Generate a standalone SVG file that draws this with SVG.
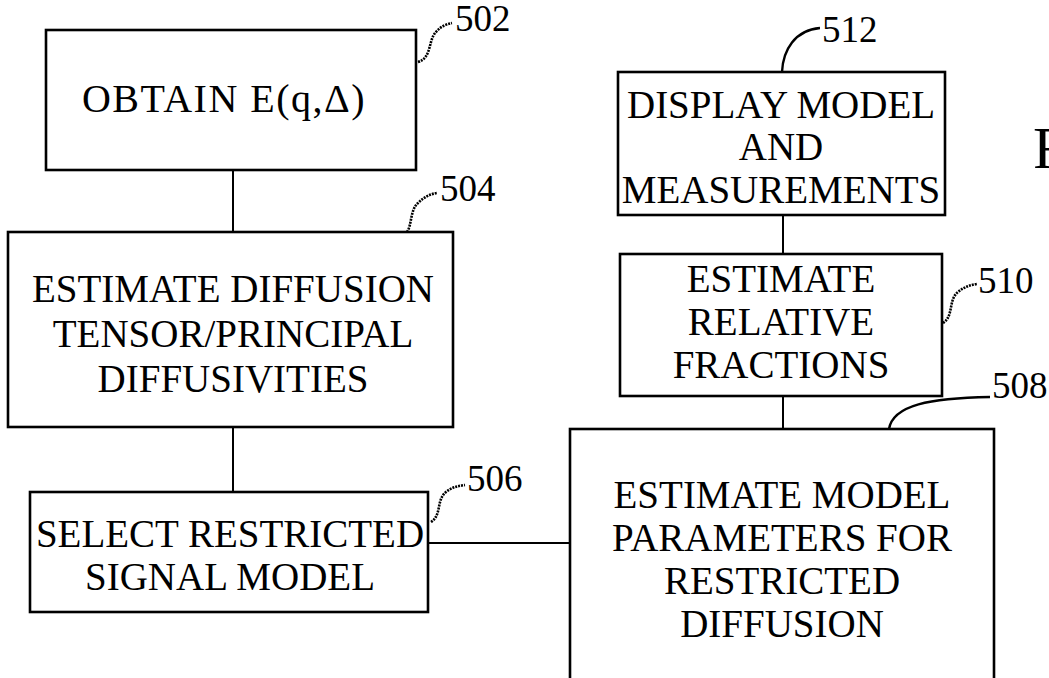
<svg xmlns="http://www.w3.org/2000/svg" width="1049" height="678" viewBox="0 0 1049 678">
<style>
.box{fill:none;stroke:#000;stroke-width:2.6}
.t{font-family:"Liberation Serif","Times New Roman",serif;font-size:39px;fill:#000;text-anchor:middle}
.lbl{font-family:"Liberation Serif","Times New Roman",serif;font-size:37px;fill:#000}
.conn{stroke:#000;stroke-width:2;fill:none}
.sq{stroke:#000;stroke-width:2.6;fill:none;stroke-dasharray:2 1}
.ld{stroke:#000;stroke-width:2.4;fill:none}
</style>
<rect width="1049" height="678" fill="#fff"/>
<g id="connectors">
<line class="conn" x1="233" y1="170" x2="233" y2="232"/>
<line class="conn" x1="233" y1="427" x2="233" y2="492"/>
<line class="conn" x1="428" y1="543" x2="570" y2="543"/>
<line class="conn" x1="783" y1="215" x2="783" y2="254"/>
<line class="conn" x1="783" y1="396" x2="783" y2="429"/>
</g>
<g id="n502">
<rect class="box" x="46" y="30" width="370" height="140"/>
<text class="t" x="224" y="112" style="font-size:40px;letter-spacing:1.5px">OBTAIN E(q,Δ)</text>
<path class="sq" d="M418,62 C432,58 428,40 436,32 C441,26 447,24 452,23"/>
<text class="lbl" x="455" y="31">502</text>
</g>
<g id="n504">
<rect class="box" x="8" y="232" width="445" height="195"/>
<text class="t" x="233" y="302">ESTIMATE DIFFUSION</text>
<text class="t" x="233" y="347">TENSOR/PRINCIPAL</text>
<text class="t" x="233" y="392">DIFFUSIVITIES</text>
<path class="sq" d="M407,232 C412,225 410,210 418,203 C424,197 430,194 437,193"/>
<text class="lbl" x="440" y="201">504</text>
</g>
<g id="n506">
<rect class="box" x="30" y="492" width="398" height="120"/>
<text class="t" x="230" y="547">SELECT RESTRICTED</text>
<text class="t" x="230" y="590">SIGNAL MODEL</text>
<path class="sq" d="M431,522 C442,515 436,500 446,492 C452,487 458,486 465,485"/>
<text class="lbl" x="467" y="491">506</text>
</g>
<g id="n508">
<rect class="box" x="570" y="429" width="424" height="270"/>
<text class="t" x="782" y="508">ESTIMATE MODEL</text>
<text class="t" x="782" y="551">PARAMETERS FOR</text>
<text class="t" x="782" y="594">RESTRICTED</text>
<text class="t" x="782" y="637">DIFFUSION</text>
<path class="ld" d="M889,429 C893,405 930,398 990,397"/>
<text class="lbl" x="992" y="398">508</text>
</g>
<g id="n510">
<rect class="box" x="620" y="254" width="322" height="142"/>
<text class="t" x="781" y="292">ESTIMATE</text>
<text class="t" x="781" y="335">RELATIVE</text>
<text class="t" x="781" y="378">FRACTIONS</text>
<path class="sq" d="M943,323 C954,316 948,300 958,292 C964,287 970,285 977,284"/>
<text class="lbl" x="978" y="293">510</text>
</g>
<g id="n512">
<rect class="box" x="618" y="72" width="327" height="143"/>
<text class="t" x="781" y="118">DISPLAY MODEL</text>
<text class="t" x="781" y="160">AND</text>
<text class="t" x="781" y="203">MEASUREMENTS</text>
<path class="ld" d="M782,72 C783,50 795,30 820,28"/>
<text class="lbl" x="822" y="42">512</text>
</g>
<text x="1033" y="168" style="font-family:'Liberation Serif','Times New Roman',serif;font-size:60px;fill:#000">F</text>
</svg>
